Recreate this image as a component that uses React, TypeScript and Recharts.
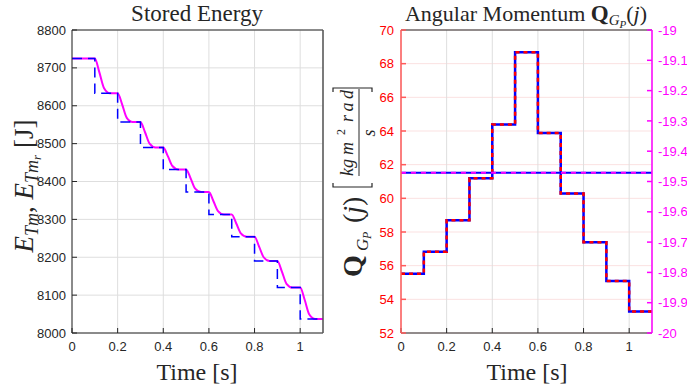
import React from "react";
import { LineChart, Line, XAxis, YAxis, CartesianGrid } from "recharts";

// time samples of the step signals [s]
const time = [0, 0.1, 0.2, 0.3, 0.4, 0.5, 0.6, 0.7, 0.8, 0.9, 1.0, 1.1];
// reference stored energy E_Tm_r [J] (dashed blue step)
const energyRef = [8725, 8633, 8557, 8490, 8432, 8372, 8313, 8254, 8190, 8120, 8037, 8037];
// stored energy E_Tm [J] (magenta), read at a few points per transition
const energyTime = [
  0, 0.1, 0.12, 0.14, 0.166, 0.2, 0.22, 0.24, 0.266, 0.3, 0.32, 0.34, 0.366, 0.4, 0.42, 0.44,
  0.466, 0.5, 0.52, 0.54, 0.566, 0.6, 0.62, 0.64, 0.666, 0.7, 0.72, 0.74, 0.766, 0.8, 0.82,
  0.84, 0.866, 0.9, 0.92, 0.94, 0.966, 1.0, 1.02, 1.04, 1.066, 1.1,
];
const energy = [
  8725, 8725, 8688, 8647, 8633, 8633, 8603, 8568, 8557, 8557, 8530, 8500, 8490, 8490, 8467, 8441,
  8432, 8432, 8408, 8381, 8372, 8372, 8348, 8322, 8313, 8313, 8289, 8263, 8254, 8254, 8228,
  8200, 8190, 8190, 8162, 8130, 8120, 8120, 8087, 8049, 8037, 8037,
];
// angular momentum Q_GP(j) [kg m^2 rad / s]
const angMom = [55.52, 56.83, 58.7, 61.19, 64.38, 68.68, 63.88, 60.28, 57.39, 55.09, 53.27, 53.27];
// horizontal line on the right axis
const meanTime = [0, 1.1];
const meanValue = [-19.471, -19.471];

const xTicks = [0, 0.2, 0.4, 0.6, 0.8, 1];
const energyTicks = [8000, 8100, 8200, 8300, 8400, 8500, 8600, 8700, 8800];
const angTicks = [52, 54, 56, 58, 60, 62, 64, 66, 68, 70];
const rightTicks = [-20, -19.9, -19.8, -19.7, -19.6, -19.5, -19.4, -19.3, -19.2, -19.1, -19];

const refData = time.map((t, i) => ({ t, v: energyRef[i] }));
const energyData = energyTime.map((t, i) => ({ t, v: energy[i] }));
const angData = time.map((t, i) => ({ t, v: angMom[i] }));
const meanData = meanTime.map((t, i) => ({ t, v: meanValue[i] }));

const sans = "'Liberation Sans', Arial, sans-serif";
const serif = "'Liberation Serif', 'DejaVu Serif', serif";
const ink = "#262626";

function tickStyle(fill: string) {
  return { fontSize: 13, fill, fontFamily: sans };
}

function EnergyChart() {
  return (
    <LineChart width={340} height={387} margin={{ top: 29, right: 16, bottom: 30, left: 0 }}>
      <CartesianGrid stroke="#dedede" />
      <XAxis
        dataKey="t"
        type="number"
        domain={[0, 1.1]}
        ticks={xTicks}
        interval={0}
        allowDataOverflow
        height={24}
        tickSize={-5}
        tickMargin={14}
        stroke={ink}
        tick={tickStyle(ink)}
      />
      <XAxis
        xAxisId="top"
        orientation="top"
        dataKey="t"
        type="number"
        domain={[0, 1.1]}
        ticks={xTicks}
        height={1}
        tickSize={-5}
        tick={false}
        stroke={ink}
      />
      <YAxis
        type="number"
        domain={[8000, 8800]}
        ticks={energyTicks}
        interval={0}
        allowDataOverflow
        width={72}
        tickSize={-5}
        tickMargin={11}
        stroke={ink}
        tick={tickStyle(ink)}
      />
      <YAxis
        yAxisId="box"
        orientation="right"
        type="number"
        domain={[8000, 8800]}
        ticks={energyTicks}
        width={1}
        tickSize={-5}
        tick={false}
        stroke="#555"
        strokeWidth={1.5}
      />
      <Line
        data={energyData}
        dataKey="v"
        type="monotone"
        stroke="#ff00ff"
        strokeWidth={2}
        dot={false}
        isAnimationActive={false}
      />
      <Line
        data={refData}
        dataKey="v"
        type="stepAfter"
        stroke="#0000ff"
        strokeWidth={1.5}
        strokeDasharray="10 6"
        dot={false}
        isAnimationActive={false}
      />
    </LineChart>
  );
}

function MomentumChart() {
  return (
    <LineChart width={347} height={387} margin={{ top: 29, right: 0, bottom: 30, left: 0 }}>
      <CartesianGrid vertical={false} stroke="#fbe1e1" />
      <CartesianGrid horizontal={false} stroke="#dedede" />
      <XAxis
        dataKey="t"
        type="number"
        domain={[0, 1.1]}
        ticks={xTicks}
        interval={0}
        allowDataOverflow
        height={24}
        tickSize={-5}
        tickMargin={14}
        stroke={ink}
        tick={tickStyle(ink)}
      />
      <XAxis
        xAxisId="top"
        orientation="top"
        dataKey="t"
        type="number"
        domain={[0, 1.1]}
        ticks={xTicks}
        height={1}
        tickSize={-5}
        tick={false}
        stroke={ink}
      />
      <YAxis
        type="number"
        domain={[52, 70]}
        ticks={angTicks}
        interval={0}
        allowDataOverflow
        width={61}
        tickSize={-5}
        tickMargin={12}
        stroke="#ff5a5a"
        strokeWidth={1.5}
        tick={tickStyle("#ff0000")}
      />
      <YAxis
        yAxisId="right"
        orientation="right"
        type="number"
        domain={[-20, -19]}
        ticks={rightTicks}
        interval={0}
        allowDataOverflow
        width={35}
        tickSize={-5}
        tickMargin={11}
        stroke="#ff00ff"
        strokeWidth={1.5}
        tick={tickStyle("#ff00ff")}
      />
      <Line
        data={angData}
        dataKey="v"
        type="stepAfter"
        stroke="#0000ff"
        strokeWidth={2.5}
        dot={false}
        isAnimationActive={false}
      />
      <Line
        data={angData}
        dataKey="v"
        type="stepAfter"
        stroke="#ff0000"
        strokeWidth={2.5}
        strokeDasharray="4 4"
        dot={false}
        isAnimationActive={false}
      />
      <Line
        data={meanData}
        yAxisId="right"
        dataKey="v"
        type="linear"
        stroke="#0000ff"
        strokeWidth={2}
        dot={false}
        isAnimationActive={false}
      />
      <Line
        data={meanData}
        yAxisId="right"
        dataKey="v"
        type="linear"
        stroke="#ff00ff"
        strokeWidth={2}
        strokeDasharray="5 5"
        dot={false}
        isAnimationActive={false}
      />
    </LineChart>
  );
}

function Labels() {
  return (
    <svg
      width={687}
      height={387}
      style={{ position: "absolute", left: 0, top: 0, pointerEvents: "none" }}
    >
      <text x={197} y={21} textAnchor="middle" fontFamily={serif} fontSize={23} fill={ink}>
        Stored Energy
      </text>
      <text x={526} y={21} textAnchor="middle" fontFamily={serif} fontSize={22} fill={ink}>
        {"Angular Momentum "}
        <tspan fontWeight="bold" fontSize={23}>Q</tspan>
        <tspan fontStyle="italic" fontSize={15} dy={4}>G</tspan>
        <tspan fontStyle="italic" fontSize={11} dy={3}>P</tspan>
        <tspan dy={-7}>(</tspan>
        <tspan fontStyle="italic">j</tspan>
        <tspan>)</tspan>
      </text>

      <text x={197} y={380} textAnchor="middle" fontFamily={serif} fontSize={24} fill={ink}>
        Time [s]
      </text>
      <text x={527} y={380} textAnchor="middle" fontFamily={serif} fontSize={24} fill={ink}>
        Time [s]
      </text>

      <g transform="translate(33,186) rotate(-90)">
        <text textAnchor="middle" fontFamily={serif} fontSize={27} fill={ink}>
          <tspan fontStyle="italic">E</tspan>
          <tspan fontStyle="italic" fontSize={18} dy={5}>Tm</tspan>
          <tspan dy={-5}>{", "}</tspan>
          <tspan fontStyle="italic">E</tspan>
          <tspan fontStyle="italic" fontSize={18} dy={5}>Tm</tspan>
          <tspan fontStyle="italic" fontSize={13} dy={3}>r</tspan>
          <tspan dy={-8}>{" [J]"}</tspan>
        </text>
      </g>

      <g transform="translate(362,190) rotate(-90)" fontFamily={serif} fill={ink}>
        <text x={-87} y={0} fontSize={28} fontWeight="bold">Q</text>
        <text x={-61} y={6} fontSize={17} fontStyle="italic">G</text>
        <text x={-49} y={9} fontSize={12} fontStyle="italic">P</text>
        <text x={-33} y={0} fontSize={28}>
          (<tspan fontStyle="italic">j</tspan>)
        </text>
        <path d="M7,-29 L3,-29 L3,10 L7,10" fill="none" stroke={ink} strokeWidth={1.2} />
        <text x={14} y={-9} fontSize={18} fontStyle="italic">kg</text>
        <text x={35} y={-9} fontSize={18} fontStyle="italic">m</text>
        <text x={55} y={-17} fontSize={12}>2</text>
        <text x={68} y={-9} fontSize={18} fontStyle="italic" textLength={32}>
          rad
        </text>
        <line x1={14} x2={101} y1={-3} y2={-3} stroke={ink} strokeWidth={1} />
        <text x={57} y={13} fontSize={18} fontStyle="italic" textAnchor="middle">
          s
        </text>
        <path d="M98,-29 L102,-29 L102,10 L98,10" fill="none" stroke={ink} strokeWidth={1.2} />
      </g>
    </svg>
  );
}

export default function App() {
  return (
    <div
      style={{
        position: "absolute",
        left: 0,
        top: 0,
        width: 687,
        height: 387,
        background: "#fff",
        overflow: "hidden",
      }}
    >
      <div style={{ position: "absolute", left: 0, top: 0 }}>
        <EnergyChart />
      </div>
      <div style={{ position: "absolute", left: 340, top: 0 }}>
        <MomentumChart />
      </div>
      <Labels />
    </div>
  );
}
